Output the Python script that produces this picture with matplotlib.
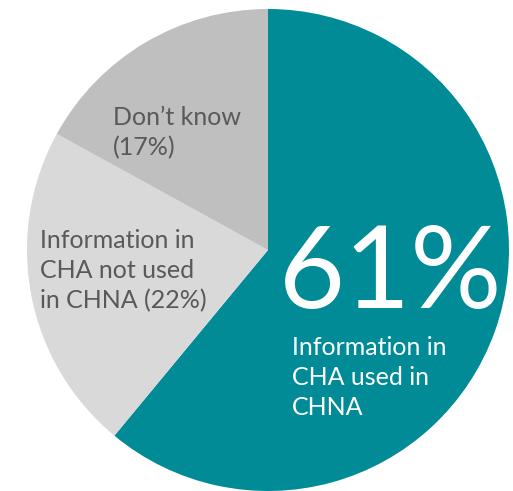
import matplotlib
matplotlib.use("Agg")
import matplotlib.pyplot as plt

labels = ["Information in CHA used in CHNA", "Information in CHA not used in CHNA", "Don't know"]
shares = [61, 22, 17]
colors = ["#008B96", "#D9D9D9", "#BFBFBF"]

plt.rcParams['font.family'] = ['Lato', 'DejaVu Sans']

W, H = 513, 491
fig = plt.figure(figsize=(W / 100, H / 100), dpi=100)
ax = fig.add_axes([0, 0, 1, 1])

ax.pie(shares, colors=colors, startangle=90, counterclock=False,
       center=(268, H - 250), radius=241, frame=True,
       wedgeprops=dict(linewidth=0))
ax.set_xlim(0, W)
ax.set_ylim(0, H)
ax.set_aspect("equal")
ax.axis("off")

# multi-line texts: y is the baseline of the last line
grey = "#595959"
ax.text(113, H - 155, "Don\u2019t know\n(%d%%)" % shares[2], color=grey, fontsize=18,
        ha="left", va="baseline", linespacing=1.37)
ax.text(40, H - 308, "Information in\nCHA not used\nin CHNA (%d%%)" % shares[1], color=grey,
        fontsize=18, ha="left", va="baseline", linespacing=1.37)
ax.text(279, H - 308, "%d%%" % shares[0], color="white", fontsize=82,
        ha="left", va="baseline")
ax.text(292, H - 415, "Information in\nCHA used in\nCHNA", color="white", fontsize=18,
        ha="left", va="baseline", linespacing=1.37)

fig.savefig("out.png", dpi=100)
